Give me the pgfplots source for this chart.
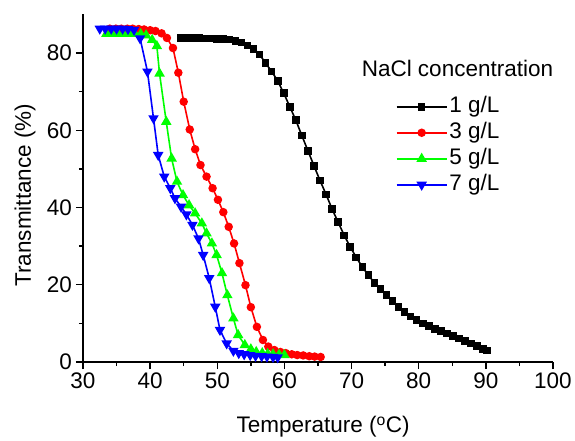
\documentclass[border=0pt]{standalone}
\usepackage{fontspec}
\setmainfont{Liberation Sans}
\usepackage{pgfplots}
\pgfplotsset{compat=1.18}
\definecolor{ogreen}{HTML}{00FF00}
\definecolor{ored}{HTML}{FF0000}
\definecolor{oblue}{HTML}{0000FF}
\newcommand{\bigf}{\fontsize{22.5}{27}\selectfont}

\begin{document}
\begin{tikzpicture}[font=\bigf]
\begin{axis}[name=ax, scale only axis, width=470pt, height=347.6pt,
  xmin=30, xmax=100, ymin=0, ymax=90,
  axis lines=left, axis line style={-, line width=1.3pt},
  xtick={30,40,...,100}, minor xtick={35,45,...,95},
  ytick={0,20,...,80}, minor ytick={10,30,50,70},
  tick align=outside, major tick length=7pt, minor tick length=4pt,
  every tick/.style={black, line width=1.3pt},
  tick label style={font=\bigf}, /pgf/number format/assume math mode=true,
  xlabel={Temperature (\textsuperscript{o}C)}, ylabel={Transmittance (\%)},
  xlabel style={at={(axis description cs:0.511,-0.204)}, anchor=base, font=\bigf},
  ylabel style={at={(axis description cs:-0.1234,0.48)}, anchor=center, font=\bigf},
  line width=1.6pt,
  legend image code/.code={\draw[mark repeat=2,mark phase=2,#1] plot coordinates {(0pt,0pt) (25pt,0pt) (50pt,0pt)};},
  legend style={draw=none, fill=none, at={(axis description cs:0.664,0.774)}, anchor=north west,
    inner sep=0pt, row sep=0pt, font=\bigf,
    nodes={inner sep=2pt, text height=17pt, text depth=5pt}},
  legend cell align=left]
\addplot[black, mark=square*, mark size=3pt] coordinates {
(44.6,83.9) (45.5,83.9) (46.4,83.9) (47.3,83.9) (48.2,83.8) (49.1,83.8) (50.0,83.7)
(50.9,83.6) (51.8,83.5) (52.7,83.1) (53.6,82.7) (54.5,82.0) (55.4,81.1) (56.3,79.6)
(57.2,77.4) (58.1,75.2) (59.0,72.8) (59.9,69.6) (60.8,66.1) (61.7,62.6) (62.6,58.6)
(63.5,54.7) (64.4,50.8) (65.3,47.0) (66.2,43.4) (67.1,39.6) (68.0,36.2) (68.9,32.8)
(69.8,29.8) (70.7,27.1) (71.6,24.6) (72.5,22.5) (73.4,20.5) (74.3,18.9) (75.2,17.3)
(76.1,15.8) (77.0,14.3) (77.9,13.0) (78.8,11.8) (79.7,10.9) (80.6,10.0) (81.5,9.3)
(82.4,8.6) (83.3,8.0) (84.2,7.4) (85.1,6.8) (86.0,6.1) (86.9,5.5) (87.8,4.8)
(88.7,4.1) (89.6,3.4) (90.2,3.0)};
\addlegendentry{1 g/L}
\addplot[ored, mark=*, mark size=3.4pt] coordinates {
(34.0,86.3) (34.9,86.3) (35.7,86.3) (36.6,86.3) (37.4,86.3) (38.3,86.2) (39.1,86.1)
(40.0,85.9) (40.8,85.7) (41.7,85.1) (42.5,83.9) (43.4,81.3) (44.2,74.9) (45.0,67.4)
(45.9,60.2) (46.7,55.1) (47.5,51.0) (48.4,48.0) (49.3,45.0) (50.1,42.0) (50.9,38.8)
(51.7,35.0) (52.5,30.7) (53.3,25.6) (54.2,19.9) (55.0,14.2) (55.9,9.1) (56.8,5.7)
(57.6,4.0) (58.5,3.1) (59.4,2.6) (60.2,2.3) (61.1,2.0) (61.9,1.8) (62.8,1.7)
(63.7,1.5) (64.5,1.4) (65.4,1.3)};
\addlegendentry{3 g/L}
\addplot[ogreen, mark=triangle*, mark size=4.5pt] coordinates {
(33.5,85.0) (34.3,85.0) (35.2,85.0) (36.0,85.0) (36.9,85.0) (37.7,85.0) (38.6,84.9)
(39.4,84.6) (40.3,83.4) (41.0,81.8) (41.4,74.7) (42.4,62.2) (43.2,52.7) (44.0,46.7)
(44.9,43.2) (45.8,40.6) (46.7,38.5) (47.7,35.9) (48.4,33.3) (49.2,30.7) (49.9,27.7)
(50.7,23.0) (51.5,17.3) (52.4,11.3) (53.1,7.0) (54.1,4.4) (55.0,3.3) (55.8,2.6)
(56.7,2.3) (57.5,2.1) (58.3,2.0) (59.2,1.9) (60.0,1.8)};
\addlegendentry{5 g/L}
\addplot[oblue, mark=triangle*, mark size=4.5pt, mark options={rotate=180}] coordinates {
(32.5,86.3) (33.3,86.3) (34.2,86.3) (35.0,86.3) (35.9,86.3) (36.7,86.2) (37.6,86.0)
(38.5,83.8) (39.6,75.2) (40.5,63.1) (41.2,53.6) (42.1,48.0) (43.0,45.0) (43.7,42.4)
(44.6,40.2) (45.4,38.2) (46.3,35.5) (47.2,32.0) (47.9,27.7) (48.8,21.7) (49.7,14.3)
(50.4,8.3) (51.4,4.8) (52.4,2.9) (53.2,2.3) (54.0,2.0) (54.9,1.8) (55.7,1.6)
(56.6,1.5) (57.4,1.4) (58.3,1.3) (59.0,1.2)};
\addlegendentry{7 g/L}
\node[anchor=base west, inner sep=0pt, font=\bigf] at (axis cs:71.4,73.9) {NaCl concentration};
\end{axis}
\pgfresetboundingbox
\path (ax.south west) ++(-83pt,-78pt) rectangle ++(575pt,440pt);
\end{tikzpicture}
\end{document}
